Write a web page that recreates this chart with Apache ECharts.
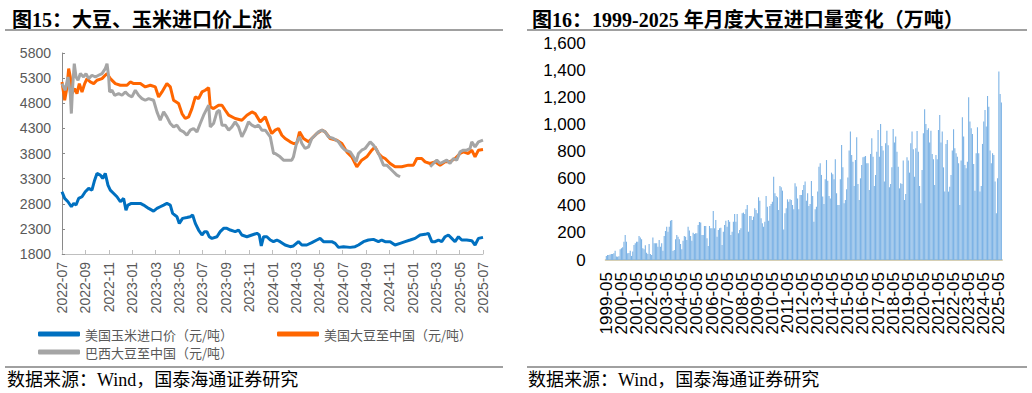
<!DOCTYPE html>
<html><head><meta charset="utf-8">
<script src="https://cdn.jsdelivr.net/npm/echarts@6/dist/echarts.min.js"></script>
<style>html,body{margin:0;padding:0;background:#fff}#c{width:1032px;height:393px}</style>
</head><body><div id="c"></div><script>
// ---------- Left chart: prices (x = months since 2022-07) ----------
const leftTickLabels = ['2022-07','2022-09','2022-11','2023-01','2023-03','2023-05','2023-07','2023-09','2023-11','2024-01','2024-03','2024-05','2024-07','2024-09','2024-11','2025-01','2025-03','2025-05','2025-07'];
const usCorn = [[0,3038],[0.23,2906],[0.51,2840],[0.8,2740],[1.0,2807],[1.2,2774],[1.42,2906],[1.71,2939],[1.99,3038],[2.28,3105],[2.56,3071],[2.79,3270],[2.99,3403],[3.28,3370],[3.48,3303],[3.7,3403],[3.93,3171],[4.13,3071],[4.42,3005],[4.7,2939],[4.99,2840],[5.27,2906],[5.47,2674],[5.64,2774],[5.93,2807],[6.27,2807],[6.7,2807],[6.98,2774],[7.41,2707],[7.83,2654],[8.12,2707],[8.4,2740],[8.69,2774],[8.97,2807],[9.26,2774],[9.46,2608],[9.83,2542],[10.03,2409],[10.31,2509],[10.68,2525],[10.97,2542],[11.17,2575],[11.4,2409],[11.68,2277],[11.97,2178],[12.19,2244],[12.39,2244],[12.59,2144],[12.82,2111],[13.25,2144],[13.53,2244],[13.82,2310],[14.1,2310],[14.39,2277],[14.81,2244],[15.1,2277],[15.38,2178],[15.81,2144],[16.24,2178],[16.67,2211],[16.87,2178],[17.04,1960],[17.24,2144],[17.52,2144],[17.81,2078],[18.08,2045],[18.37,2078],[18.65,2045],[19.08,1979],[19.51,1946],[19.79,1960],[20.22,2045],[20.51,1979],[20.93,1979],[21.36,2025],[21.79,2078],[22.07,2111],[22.36,2045],[22.64,2045],[23.07,2045],[23.36,2012],[23.64,1932],[24.07,1946],[24.64,1932],[25.06,1946],[25.35,1979],[25.78,2045],[26.2,2078],[26.63,2091],[27.06,2045],[27.34,2078],[27.63,2045],[28.06,2045],[28.48,1979],[28.91,2012],[29.34,2045],[29.77,2078],[30.19,2111],[30.62,2178],[31.05,2191],[31.33,2211],[31.62,2045],[31.9,2045],[32.19,2078],[32.47,2045],[32.76,2144],[33.04,2178],[33.33,2111],[33.61,2045],[33.9,2144],[34.18,2078],[34.61,2078],[35.04,2065],[35.32,1979],[35.61,2111],[36,2131]];
const usSoy = [[0,5224],[0.23,4860],[0.43,5125],[0.57,5489],[0.71,5323],[0.85,4992],[1.08,5092],[1.28,4992],[1.48,5191],[1.71,5025],[1.94,5191],[2.14,5290],[2.42,5224],[2.71,5191],[2.99,5257],[3.42,5290],[3.7,5357],[3.85,5390],[4.13,5290],[4.56,5191],[4.99,5158],[5.56,5158],[5.84,5224],[6.13,5191],[6.7,5191],[7.12,5125],[7.55,5158],[7.98,5125],[8.26,4926],[8.55,5025],[8.97,5191],[9.26,5125],[9.54,4860],[9.97,4794],[10.26,4595],[10.54,4496],[10.83,4529],[11.11,4694],[11.4,4926],[11.68,4893],[11.97,5025],[12.25,5058],[12.54,5111],[12.68,4727],[12.96,4694],[13.39,4760],[13.68,4760],[13.96,4661],[14.25,4562],[14.81,4496],[15.38,4462],[15.81,4562],[16.24,4628],[16.52,4595],[16.95,4429],[17.38,4529],[17.81,4264],[17.94,4198],[18.23,4264],[18.51,4297],[18.8,4164],[19.08,4098],[19.51,4032],[19.79,3999],[20.08,3999],[20.31,4231],[20.65,4098],[21.08,4032],[21.36,4098],[21.79,4198],[22.22,4264],[22.5,4231],[22.93,4098],[23.5,4065],[23.93,3999],[24.35,3833],[24.78,3734],[25.21,3535],[25.63,3668],[26.06,3734],[26.49,3866],[26.77,3932],[27.06,3800],[27.34,3734],[27.63,3701],[28.06,3601],[28.48,3535],[29.05,3535],[29.62,3568],[30.05,3568],[30.34,3701],[30.76,3701],[31.05,3634],[31.48,3601],[31.9,3634],[32.33,3568],[32.76,3634],[33.18,3634],[33.61,3701],[34.04,3800],[34.32,3833],[34.75,3800],[35.04,3866],[35.32,3734],[35.61,3866],[36,3880]];
const brSoy = [[0,5191],[0.28,5058],[0.51,5323],[0.71,4992],[0.8,4595],[0.91,5125],[1.05,5588],[1.2,5323],[1.37,5257],[1.57,5390],[1.85,5323],[2.05,5390],[2.28,5290],[2.56,5357],[2.85,5323],[3.13,5357],[3.42,5390],[3.7,5489],[3.85,5588],[3.99,5323],[4.07,5025],[4.27,5058],[4.5,4959],[4.84,4992],[5.13,4959],[5.41,5025],[5.7,4959],[5.98,4926],[6.27,5058],[6.55,4959],[6.84,4893],[7.12,4860],[7.41,4893],[7.83,4860],[8.12,4628],[8.4,4462],[8.69,4628],[8.97,4529],[9.26,4396],[9.54,4330],[9.83,4363],[10.11,4264],[10.4,4231],[10.68,4164],[10.97,4264],[11.25,4297],[11.54,4231],[11.82,4396],[12.11,4562],[12.39,4694],[12.54,4760],[12.68,4330],[12.96,4396],[13.25,4628],[13.45,4661],[13.68,4363],[13.96,4363],[14.25,4264],[14.53,4330],[14.81,4429],[15.1,4330],[15.38,4131],[15.67,4264],[15.95,4429],[16.24,4363],[16.52,4330],[16.81,4363],[17.09,4264],[17.38,4264],[17.81,4131],[18.09,3800],[18.23,3800],[18.65,3734],[18.94,3668],[19.65,3668],[19.79,3734],[20.08,4032],[20.31,4131],[20.51,3999],[20.79,3899],[21.08,3932],[21.36,4098],[21.65,4164],[21.93,4231],[22.22,4264],[22.5,4231],[22.79,4131],[23.21,4098],[23.64,4032],[23.93,3932],[24.21,3866],[24.64,3833],[24.92,3734],[25.15,3634],[25.35,3800],[25.63,3866],[25.92,3899],[26.35,4032],[26.63,3966],[26.92,3866],[27.2,3734],[27.49,3568],[27.77,3568],[28.06,3502],[28.34,3436],[28.63,3370],[28.91,3337],[30,null],[31.48,3535],[31.76,3601],[32.05,3668],[32.33,3601],[32.61,3634],[32.9,3668],[33.18,3601],[33.47,3701],[33.75,3668],[34.04,3833],[34.32,3866],[34.61,3866],[34.89,3899],[35.04,4032],[35.32,3932],[35.61,4032],[36,4065]];

// ---------- Right chart: monthly soybean imports (万吨), 1999-05 .. 2025-07 ----------
const importStart = [1999, 5];
const soyImports = [
  30,37,37,40,44,44,50,69,                       // 1999 May-Dec
  26,24,28,79,86,95,135,185,135,49,52,69,        // 2000
  30,62,110,123,135,135,177,167,153,86,79,108,   // 2001
  54,44,118,44,37,167,123,123,123,98,148,98,     // 2002
  123,69,177,214,246,209,246,290,295,66,74,153,  // 2003
  185,172,153,118,79,143,177,172,148,246,217,177,// 2004
  143,202,192,197,197,258,281,276,185,185,251,251,// 2005
  160,103,251,234,234,362,234,295,172,221,234,239,// 2006
  111,209,258,290,246,295,283,185,209,283,340,283,// 2007
  340,197,222,234,345,350,340,374,406,209,325,325,// 2008
  295,320,382,369,345,463,438,308,271,246,283,473,// 2009
  394,290,399,414,431,615,492,473,463,369,547,537,// 2010
  512,226,345,382,448,431,448,443,406,374,566,542,// 2011
  455,374,480,480,517,554,579,438,492,399,414,583,// 2012
  473,283,374,394,505,689,714,628,468,414,596,738,// 2013
  586,473,455,645,633,596,743,492,406,406,596,849,// 2014
  684,419,443,522,610,808,948,775,726,547,738,906,// 2015
  561,443,603,702,758,763,768,714,714,517,783,899,// 2016
  763,547,628,800,960,763,1004,842,808,579,862,955,// 2017
  847,537,561,684,967,867,911,800,689,529,566,561,// 2018
  734,443,487,758,734,645,862,948,817,615,825,953,// 2019
  800,547,419,665,936,1113,1004,960,972,867,955,783,// 2020
  743,554,775,743,960,1071,867,948,684,505,857,886,// 2021
  505,540,628,808,965,825,788,763,714,406,734,1054,// 2022
  911,702,677,726,1201,1022,972,931,709,512,788,980,// 2023
  788,505,547,857,1022,1108,985,1211,1132,808,714,788,// 2024
  775,579,345,603,1391,1226,1162                 // 2025 Jan-Jul
];
const importMonths = [];
(function(){ let y = importStart[0], m = importStart[1];
  for (let i = 0; i < soyImports.length; i++) {
    importMonths.push(y + '-' + (m < 10 ? '0' + m : m));
    m++; if (m > 12) { m = 1; y++; }
  }})();

const names = ['美国玉米进口价（元/吨）','美国大豆至中国（元/吨）','巴西大豆至中国（元/吨）'];
const serifCJK = '"Liberation Serif", "Noto Sans CJK SC", serif';
const sans = '"Liberation Sans", Arial, sans-serif';
const everyYear = i => i % 12 === 0;

const chart = echarts.init(document.getElementById('c'), null, {renderer: 'svg'});
const legendBase = {itemWidth: 42, itemHeight: 5, icon: 'roundRect', itemGap: 0, padding: 0,
  textStyle: {fontSize: 13, lineHeight: 14, color: '#595959', fontFamily: '"Noto Sans CJK SC", sans-serif'}};
chart.setOption({
  animation: false,
  title: [
    {text: '图15：大豆、玉米进口价上涨', left: 7, top: 5, textStyle: {fontSize: 20, fontWeight: 'bold', color: '#000', fontFamily: serifCJK}},
    {text: '图16：1999-2025 年月度大豆进口量变化（万吨）', left: 527, top: 5, textStyle: {fontSize: 20, fontWeight: 'bold', color: '#000', fontFamily: serifCJK}}
  ],
  graphic: [
    {type: 'line', shape: {x1: 5, y1: 30, x2: 503, y2: 30}, style: {stroke: '#808080', lineWidth: 1.3}},
    {type: 'line', shape: {x1: 527, y1: 30, x2: 1027, y2: 30}, style: {stroke: '#808080', lineWidth: 1.3}},
    {type: 'line', shape: {x1: 5, y1: 367, x2: 503, y2: 367}, style: {stroke: '#808080', lineWidth: 1.3}},
    {type: 'line', shape: {x1: 527, y1: 367, x2: 1027, y2: 367}, style: {stroke: '#808080', lineWidth: 1.3}},
    {type: 'text', x: 7, y: 380, style: {text: '数据来源：Wind，国泰海通证券研究', fontSize: 18, fontFamily: serifCJK, fill: '#000', verticalAlign: 'middle'}},
    {type: 'text', x: 528, y: 380, style: {text: '数据来源：Wind，国泰海通证券研究', fontSize: 18, fontFamily: serifCJK, fill: '#000', verticalAlign: 'middle'}}
  ],
  legend: [
    Object.assign({data: [names[0]], left: 38, top: 327}, legendBase),
    Object.assign({data: [names[1]], left: 277, top: 327}, legendBase),
    Object.assign({data: [names[2]], left: 38, top: 345}, legendBase)
  ],
  grid: [
    {left: 62, right: 549, top: 53, bottom: 139, containLabel: false, outerBoundsMode: 'none'},
    {left: 605.7, right: 30, top: 43.3, bottom: 133, containLabel: false, outerBoundsMode: 'none'}
  ],
  xAxis: [
    {type: 'value', gridIndex: 0, min: 0, max: 36, interval: 2,
      axisLine: {lineStyle: {color: '#BFBFBF'}},
      axisTick: {inside: true, length: 4, lineStyle: {color: '#BFBFBF'}},
      splitLine: {show: false},
      axisLabel: {rotate: 90, margin: 8, fontSize: 14, color: '#595959', fontFamily: sans,
        showMinLabel: true, showMaxLabel: true,
        formatter: v => leftTickLabels[Math.round(v / 2)]}},
    {type: 'category', gridIndex: 1, data: importMonths, boundaryGap: true,
      axisLine: {lineStyle: {color: '#D6CFB4', width: 2}},
      axisTick: {alignWithLabel: true, interval: everyYear, length: 4, lineStyle: {color: '#D6CFB4', width: 2}},
      axisLabel: {interval: 0, hideOverlap: false,
        formatter: (v, i) => (i % 12 === 0 ? v : ''),
        rotate: 90, margin: 12, fontSize: 17, color: '#000', fontFamily: sans}}
  ],
  yAxis: [
    {type: 'value', gridIndex: 0, min: 1800, max: 5800, interval: 500,
      axisLine: {show: true, lineStyle: {color: '#898989'}},
      axisTick: {show: true, inside: true, length: 3, lineStyle: {color: '#898989'}},
      splitLine: {show: false},
      axisLabel: {margin: 11, fontSize: 14, color: '#595959', fontFamily: sans, formatter: v => String(v)}},
    {type: 'value', gridIndex: 1, min: 0, max: 1600, interval: 200,
      axisLine: {show: false}, axisTick: {show: false}, splitLine: {show: false},
      axisLabel: {margin: 20, fontSize: 17, color: '#000', fontFamily: sans,
        formatter: v => String(v).replace(/\B(?=(\d{3})+(?!\d))/g, ',')}}
  ],
  series: [
    {name: names[0], type: 'line', xAxisIndex: 0, yAxisIndex: 0, data: usCorn, showSymbol: false,
      lineStyle: {width: 3, color: '#0070C0'}, itemStyle: {color: '#0070C0'}},
    {name: names[1], type: 'line', xAxisIndex: 0, yAxisIndex: 0, data: usSoy, showSymbol: false,
      lineStyle: {width: 3, color: '#FF6600'}, itemStyle: {color: '#FF6600'}},
    {name: names[2], type: 'line', xAxisIndex: 0, yAxisIndex: 0, data: brSoy, showSymbol: false,
      lineStyle: {width: 3, color: '#A5A5A5'}, itemStyle: {color: '#A5A5A5'}},
    {name: '月度大豆进口量', type: 'bar', xAxisIndex: 1, yAxisIndex: 1, data: soyImports,
      barCategoryGap: '12%', itemStyle: {color: '#7DB3E5'}}
  ]
});
</script></body></html>
